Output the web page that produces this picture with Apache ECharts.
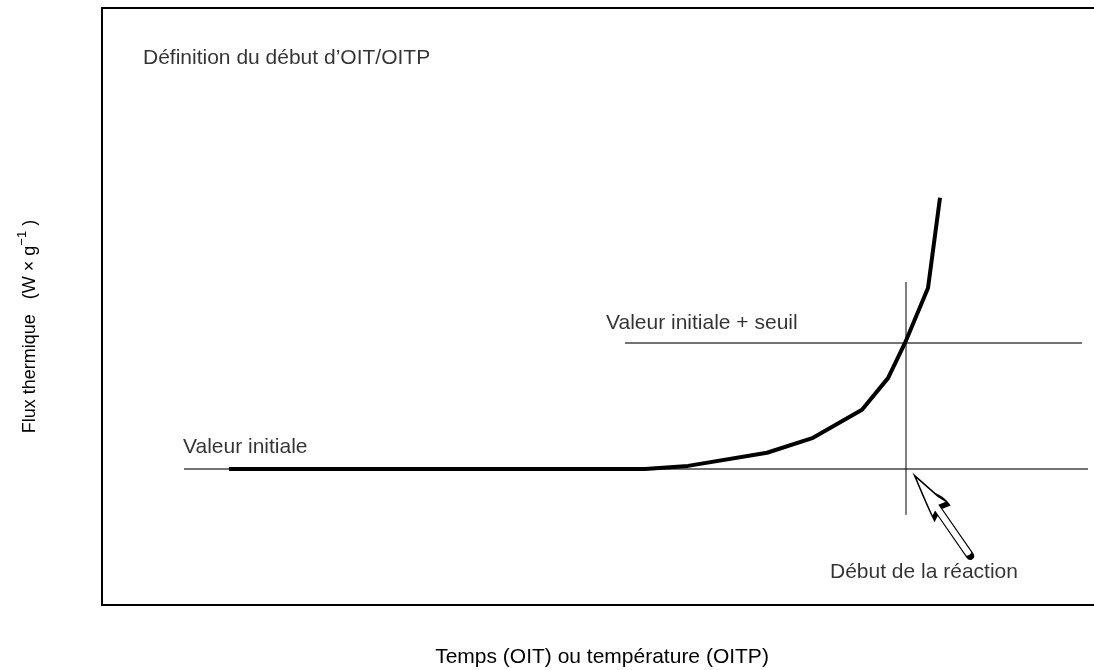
<!DOCTYPE html>
<html>
<head>
<meta charset="utf-8">
<script src="https://cdn.jsdelivr.net/npm/echarts@6/dist/echarts.min.js"></script>
<style>
  html, body { margin: 0; padding: 0; background: #fff; }
  #chart { width: 1094px; height: 670px; }
</style>
</head>
<body>
<div id="chart"></div>
<script>
// courbe DSC (unités arbitraires)
const tempsX = [12.7, 54.3, 58.6, 66.5, 71.1, 76.0, 78.6, 80.3, 82.6, 83.8]
const fluxY = [22.8, 22.8, 23.3, 25.5, 28.0, 32.7, 38.0, 43.9, 53.1, 68.2]

const valeurInitiale = 22.8
const valeurSeuil = 43.9
const baseXRange = [8.2, 98.6]
const seuilXRange = [52.3, 98.0]
const debutX = 80.4
const debutYRange = [15.1, 54.1]

// annotations : [texte, x, y]
const annotations = [
  ['Définition du début d’OIT/OITP', 4.1, 91.6],
  ['Valeur initiale + seuil', 50.4, 47.2],
  ['Valeur initiale', 8.1, 26.5],
  ['Début de la réaction', 72.8, 5.5]
]
const fleche = [84.2, 15.0]

const font = 'Liberation Sans, Arial, sans-serif'
const chart = echarts.init(document.getElementById('chart'))

// flèche creuse pointant vers le haut
const arrowPath = 'path://M12 0 L19 28 C21 33 24 37 24 42 L15.5 40 L15.5 96 C15.5 99 8.5 99 8.5 96 L8.5 43 L3 46 C5 32 9 15 12 0 Z'

const option = {
  animation: false,
  backgroundColor: '#fff',
  grid: {
    left: 102, width: 1000, top: 8, bottom: 65,
    outerBoundsMode: 'none', containLabel: false,
    show: true, borderColor: '#000', borderWidth: 2, backgroundColor: 'transparent'
  },
  xAxis: {
    type: 'value', min: 0, max: 100,
    axisLine: { show: false }, axisTick: { show: false },
    axisLabel: { show: false }, splitLine: { show: false },
    name: 'Temps (OIT) ou température (OITP)',
    nameLocation: 'middle', nameGap: 42,
    nameTextStyle: { fontFamily: font, fontSize: 21, color: '#000' }
  },
  yAxis: {
    type: 'value', min: 0, max: 100,
    axisLine: { show: false }, axisTick: { show: false },
    axisLabel: { show: false }, splitLine: { show: false },
    name: '{t|Flux thermique   (W × g}{sup|−1}{t| )}',
    nameLocation: 'middle', nameGap: 58, nameRotate: 90,
    nameTextStyle: {
      fontFamily: font, fontSize: 18, color: '#000', padding: [0, 40, 0, 0],
      rich: {
        t: { fontFamily: font, fontSize: 18, color: '#000' },
        sup: { fontFamily: font, fontSize: 13, color: '#000', padding: [0, 0, 15, 0] }
      }
    }
  },
  series: [
    {
      type: 'line', silent: true,
      data: [[baseXRange[0], valeurInitiale], [baseXRange[1], valeurInitiale]],
      symbol: 'none', lineStyle: { color: '#444', width: 1.5 }
    },
    {
      type: 'line', silent: true,
      data: [[seuilXRange[0], valeurSeuil], [seuilXRange[1], valeurSeuil]],
      symbol: 'none', lineStyle: { color: '#444', width: 1.5 }
    },
    {
      type: 'line', silent: true,
      data: [[debutX, debutYRange[0]], [debutX, debutYRange[1]]],
      symbol: 'none', lineStyle: { color: '#000', width: 1 }
    },
    {
      type: 'line', silent: true,
      data: tempsX.map((x, i) => [x, fluxY[i]]),
      symbol: 'none', lineStyle: { color: '#000', width: 4, join: 'round' }
    },
    {
      type: 'scatter', silent: true,
      symbolSize: 0,
      data: annotations.map(a => ({ value: [a[1], a[2]], name: a[0] })),
      label: {
        show: true, position: 'right', distance: 0,
        formatter: p => p.name,
        fontFamily: font, fontSize: 21, color: '#000'
      },
      markPoint: {
        symbol: arrowPath,
        symbolSize: [21, 99],
        symbolRotate: 34.7,
        itemStyle: { color: '#fff', borderColor: '#000', borderWidth: 2.5 },
        label: { show: false },
        data: [{ coord: fleche }]
      }
    }
  ]
}

chart.setOption(option)
</script>
</body>
</html>
